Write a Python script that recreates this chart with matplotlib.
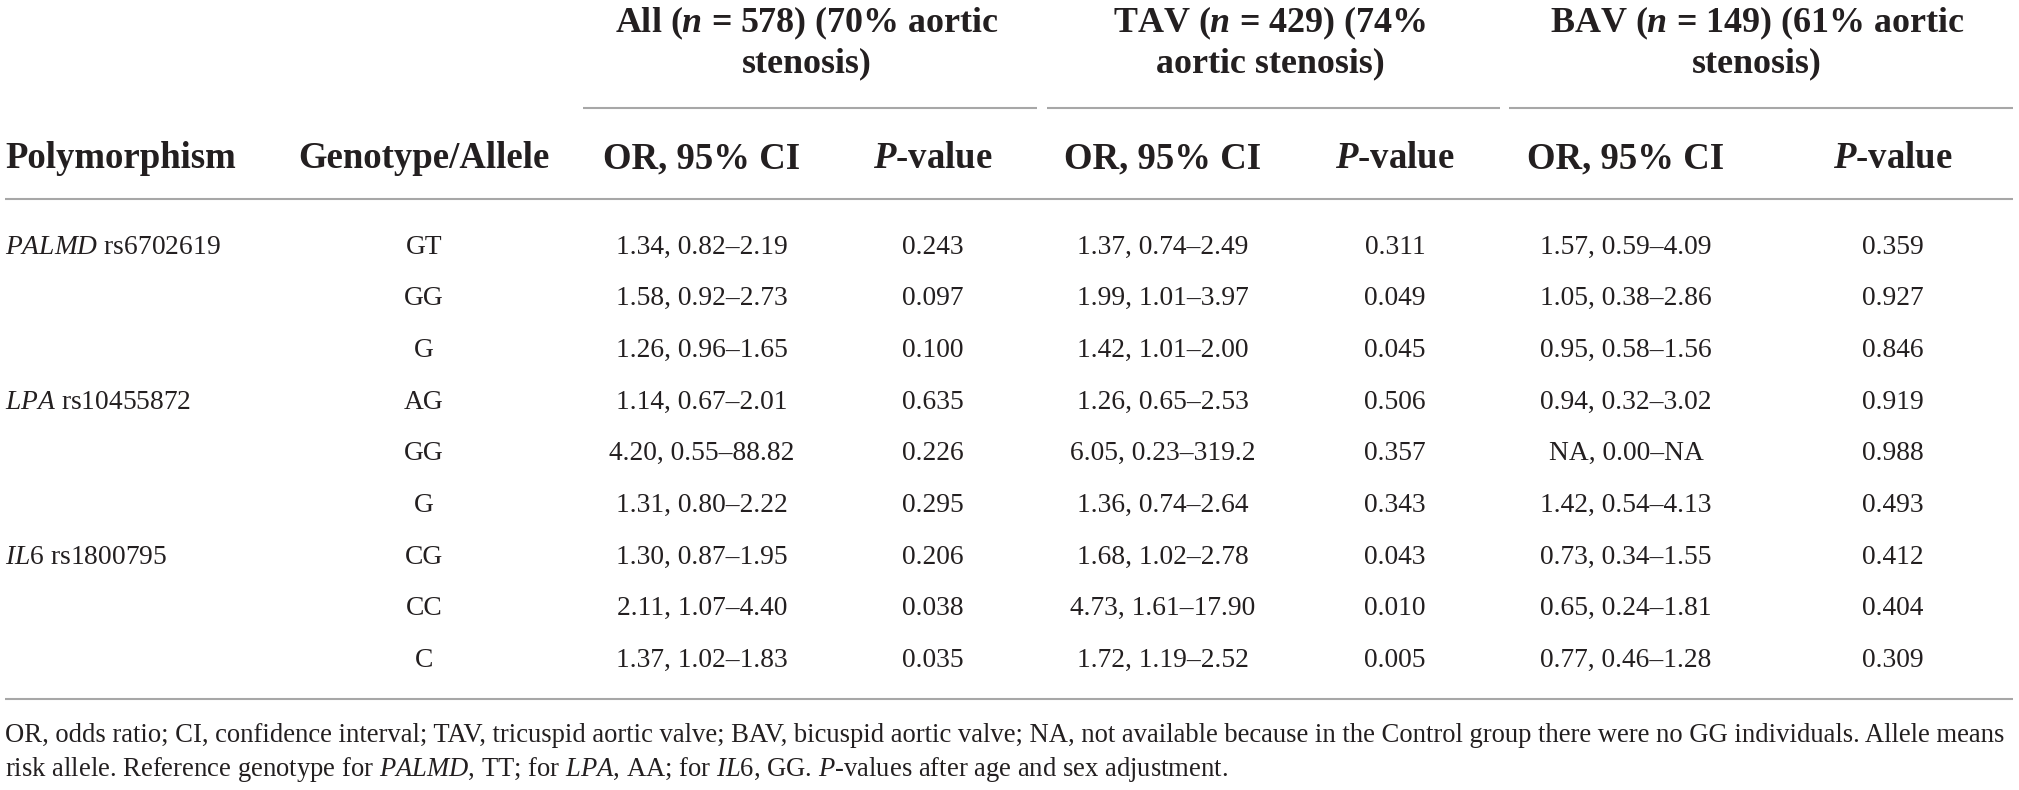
import matplotlib
matplotlib.use("Agg")
import matplotlib.pyplot as plt

plt.rcParams['font.family'] = ['Liberation Serif', 'DejaVu Serif']
plt.rcParams['mathtext.fontset'] = 'custom'
plt.rcParams['mathtext.rm'] = 'Liberation Serif'
plt.rcParams['mathtext.it'] = 'Liberation Serif:italic'
plt.rcParams['mathtext.bf'] = 'Liberation Serif:bold'
plt.rcParams['mathtext.bfit'] = 'Liberation Serif:bold:italic'

# ---------------- data ----------------
group_headers = [
    ("All ($\\mathbfit{n}$ = 578) (70% aortic", "stenosis)"),
    ("TAV ($\\mathbfit{n}$ = 429) (74%", "aortic stenosis)"),
    ("BAV ($\\mathbfit{n}$ = 149) (61% aortic", "stenosis)"),
]
col_headers = ["Polymorphism", "Genotype/Allele",
               "OR, 95% CI", "$\\mathbfit{P}$-value",
               "OR, 95% CI", "$\\mathbfit{P}$-value",
               "OR, 95% CI", "$\\mathbfit{P}$-value"]
genes = ["PALMD", "LPA", "IL6"]
snps = ["rs6702619", "rs10455872", "rs1800795"]
gene_rows = [0, 3, 6]
genotypes = ["GT", "GG", "G", "AG", "GG", "G", "CG", "CC", "C"]
all_or = ["1.34, 0.82–2.19", "1.58, 0.92–2.73", "1.26, 0.96–1.65",
          "1.14, 0.67–2.01", "4.20, 0.55–88.82", "1.31, 0.80–2.22",
          "1.30, 0.87–1.95", "2.11, 1.07–4.40", "1.37, 1.02–1.83"]
all_p = ["0.243", "0.097", "0.100", "0.635", "0.226", "0.295",
         "0.206", "0.038", "0.035"]
tav_or = ["1.37, 0.74–2.49", "1.99, 1.01–3.97", "1.42, 1.01–2.00",
          "1.26, 0.65–2.53", "6.05, 0.23–319.2", "1.36, 0.74–2.64",
          "1.68, 1.02–2.78", "4.73, 1.61–17.90", "1.72, 1.19–2.52"]
tav_p = ["0.311", "0.049", "0.045", "0.506", "0.357", "0.343",
         "0.043", "0.010", "0.005"]
bav_or = ["1.57, 0.59–4.09", "1.05, 0.38–2.86", "0.95, 0.58–1.56",
          "0.94, 0.32–3.02", "NA, 0.00–NA", "1.42, 0.54–4.13",
          "0.73, 0.34–1.55", "0.65, 0.24–1.81", "0.77, 0.46–1.28"]
bav_p = ["0.359", "0.927", "0.846", "0.919", "0.988", "0.493",
         "0.412", "0.404", "0.309"]
footnote = [
    "OR, odds ratio; CI, confidence interval; TAV, tricuspid aortic valve; BAV, bicuspid aortic valve; NA, not available because in the Control group there were no GG individuals. Allele means",
    "risk allele. Reference genotype for $\\mathit{PALMD}$, TT; for $\\mathit{LPA}$, AA; for $\\mathit{IL6}$, GG. $\\mathit{P}$-values after age and sex adjustment.",
]

# ---------------- layout ----------------
W, H = 2019, 790
fig = plt.figure(figsize=(W / 100, H / 100), dpi=100)
ax = fig.add_axes([0, 0, 1, 1])
ax.set_xlim(0, W)
ax.set_ylim(H, 0)
ax.axis('off')
renderer = fig.canvas.get_renderer()


def fit_size(s, target_px, **kw):
    t = ax.text(0, 0, s, fontsize=10, **kw)
    w = t.get_window_extent(renderer).width
    t.remove()
    return 10.0 * target_px / w


TXT = '#231f20'
RULE = '#a7a7a7'
fs_head = 0.5 * (fit_size("Polymorphism", 232, fontweight='bold') +
                 fit_size("Genotype/Allele", 251, fontweight='bold'))
fs_group = 0.5 * (fs_head + fit_size(group_headers[2][0], 409,
                                     fontweight='bold'))
fs_body = fit_size("1.34, 0.82–2.19", 172)
fs_foot = fit_size(footnote[0], 2006)

col_x = [5, 424, 702, 933, 1163, 1395, 1626, 1893]
group_x = [807, 1270, 1757]
group_spans = [(583, 1037), (1047, 1500), (1509, 2013)]

# group headers
for (l1, l2), gx in zip(group_headers, group_x):
    ax.text(gx, 32, l1, ha='center', va='baseline', fontsize=fs_group,
            fontweight='bold', color=TXT)
    ax.text(gx, 72, l2, ha='center', va='baseline', fontsize=fs_group,
            fontweight='bold', color=TXT)
for x0, x1 in group_spans:
    ax.plot([x0, x1], [108, 108], color=RULE, lw=1.5, solid_capstyle='butt')

# column headers
for i, (h, cx) in enumerate(zip(col_headers, col_x)):
    ax.text(cx, 168, h, ha='left' if i == 0 else 'center', va='baseline',
            fontsize=fs_head, fontweight='bold', color=TXT)
ax.plot([5, 2013], [199, 199], color=RULE, lw=1.5, solid_capstyle='butt')

# body
row0, dy = 253.5, 51.7
for g, s, r in zip(genes, snps, gene_rows):
    ax.text(col_x[0], row0 + r * dy, f"$\\mathit{{{g}}}$ {s}", ha='left',
            va='baseline', fontsize=fs_body, color=TXT)
columns = [genotypes, all_or, all_p, tav_or, tav_p, bav_or, bav_p]
for c, vals in enumerate(columns):
    for r, v in enumerate(vals):
        ax.text(col_x[c + 1], row0 + r * dy, v, ha='center', va='baseline',
                fontsize=fs_body, color=TXT)
ax.plot([5, 2013], [699, 699], color=RULE, lw=1.5, solid_capstyle='butt')

# footnote
for i, line in enumerate(footnote):
    ax.text(5, 742 + i * 34, line, ha='left', va='baseline',
            fontsize=fs_foot, color=TXT)

fig.savefig('out.png', dpi=100, facecolor='white')
